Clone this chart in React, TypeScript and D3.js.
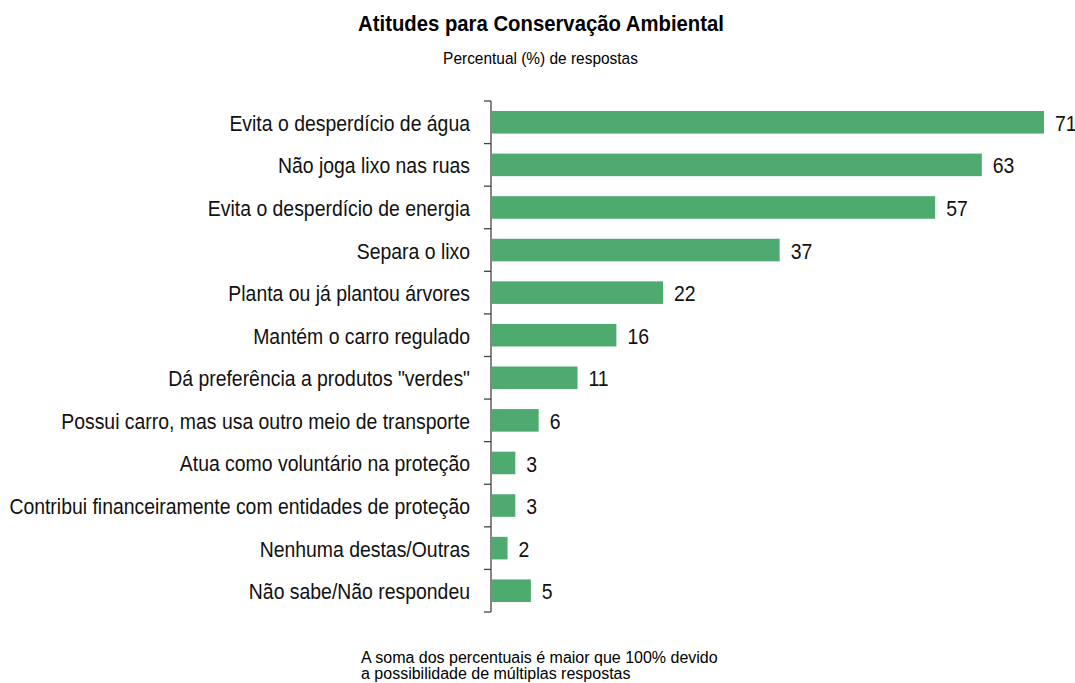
import React, { useEffect, useRef } from "react";
import * as d3 from "d3";

const categories = [
  "Evita o desperdício de água",
  "Não joga lixo nas ruas",
  "Evita o desperdício de energia",
  "Separa o lixo",
  "Planta ou já plantou árvores",
  "Mantém o carro regulado",
  'Dá preferência a produtos "verdes"',
  "Possui carro, mas usa outro meio de transporte",
  "Atua como voluntário na proteção",
  "Contribui financeiramente com entidades de proteção",
  "Nenhuma destas/Outras",
  "Não sabe/Não respondeu",
];
const values = [71, 63, 57, 37, 22, 16, 11, 6, 3, 3, 2, 5];

const title = "Atitudes para Conservação Ambiental";
const subtitle = "Percentual (%) de respostas";
const footnote = [
  "A soma dos percentuais é maior que 100% devido",
  "a possibilidade de múltiplas respostas",
];

const sans = "'Liberation Sans', Arial, sans-serif";

// squeeze a text horizontally so it spans the wanted width (condensed look)
function fitWidth(sel: d3.Selection<SVGTextElement, any, any, any>, target: number) {
  const node = sel.node();
  if (!node) return 1;
  const w = node.getComputedTextLength();
  return w > 0 ? target / w : 1;
}

export default function App() {
  const svgRef = useRef<SVGSVGElement | null>(null);

  useEffect(() => {
    if (!svgRef.current) return;
    const svg = d3.select(svgRef.current);
    svg.selectAll("*").remove();

    const axisX = 491;
    const top = 101;
    const bottom = 612;

    const y = d3.scaleBand().domain(categories).range([top, bottom]).paddingInner(0.47).paddingOuter(0.235);
    const x = d3.scaleLinear().domain([0, 71]).range([axisX + 1, 1044]);

    // title
    const tg = svg.append("g");
    const tt = tg.append("text")
      .attr("text-anchor", "middle")
      .attr("font-family", sans)
      .attr("font-weight", "bold")
      .attr("font-size", 22.5)
      .attr("fill", "#000")
      .text(title);
    tg.attr("transform", `translate(541,31) scale(${fitWidth(tt, 366)},1)`);

    const sg = svg.append("g");
    const st = sg.append("text")
      .attr("text-anchor", "middle")
      .attr("font-family", sans)
      .attr("font-size", 16.5)
      .attr("fill", "#000")
      .text(subtitle);
    sg.attr("transform", `translate(540.5,64) scale(${fitWidth(st, 195)},1)`);

    // bars
    svg.append("g")
      .selectAll("rect")
      .data(values)
      .enter()
      .append("rect")
      .attr("x", x(0))
      .attr("y", (_, i) => y(categories[i])!)
      .attr("width", (d) => x(d) - x(0))
      .attr("height", y.bandwidth())
      .attr("fill", "#4faa6f");

    // category labels (condensed via horizontal scale)
    const lg = svg.append("g");
    const labels = lg.selectAll("text")
      .data(categories)
      .enter()
      .append("text")
      .attr("x", 0)
      .attr("y", (d) => y(d)! + y.bandwidth() / 2)
      .attr("dy", "0.38em")
      .attr("text-anchor", "end")
      .attr("font-family", sans)
      .attr("font-size", 22.5)
      .attr("fill", "#111")
      .text((d) => d);
    const longest = labels.filter((d) => d === categories[9]) as any;
    const f = fitWidth(longest, 461);
    lg.attr("transform", `translate(${axisX - 21},0) scale(${f},1)`);

    // value labels
    const vg = svg.append("g");
    vg.selectAll("g")
      .data(values)
      .enter()
      .append("g")
      .attr("transform", (d, i) => `translate(${x(d) + 11},${y(categories[i])! + y.bandwidth() / 2}) scale(${f},1)`)
      .append("text")
      .attr("dy", "0.38em")
      .attr("font-family", sans)
      .attr("font-size", 22.5)
      .attr("fill", "#111")
      .text((d) => d);

    // axis line with ticks at band boundaries
    const step = y.step();
    const boundaries = d3.range(categories.length + 1).map((i) => top + i * step);
    const axis = svg.append("g").attr("stroke", "#444").attr("stroke-width", 1.3);
    axis.append("line")
      .attr("x1", axisX).attr("x2", axisX)
      .attr("y1", top).attr("y2", bottom);
    axis.selectAll("line.tick")
      .data(boundaries)
      .enter()
      .append("line")
      .attr("class", "tick")
      .attr("x1", axisX - 7).attr("x2", axisX)
      .attr("y1", (d) => d).attr("y2", (d) => d);

    // footnote
    svg.append("g")
      .selectAll("text")
      .data(footnote)
      .enter()
      .append("text")
      .attr("x", 361)
      .attr("y", (_, i) => 663 + i * 16)
      .attr("font-family", sans)
      .attr("font-size", 16)
      .attr("fill", "#000")
      .text((d) => d);
  }, []);

  return (
    <svg
      ref={svgRef}
      width={1075}
      height={683}
      style={{ position: "absolute", left: 0, top: 0, background: "#fff" }}
    />
  );
}
